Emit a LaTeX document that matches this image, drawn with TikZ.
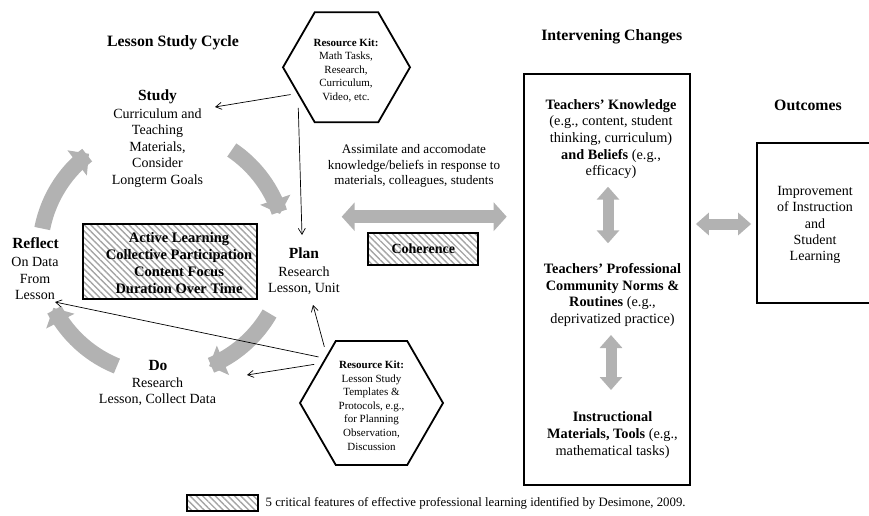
\documentclass[tikz,border=0pt]{standalone}
\usepackage{fontspec}
\setmainfont{Liberation Serif}
\usetikzlibrary{shapes.geometric,arrows.meta,patterns.meta,calc}
\definecolor{agray}{RGB}{178,178,178}
\definecolor{hgray}{RGB}{165,165,165}
\begin{document}
\begin{tikzpicture}[x=1pt,y=-1pt,
  body/.style={font=\fontsize{14}{16.4}\selectfont, align=center, inner sep=0pt},
  cyc/.style={font=\bfseries\fontsize{15.5}{18}\selectfont, inner sep=0pt},
  head/.style={font=\bfseries\fontsize{15.8}{18}\selectfont, inner sep=0pt},
  kittext/.style={font=\fontsize{11}{13.6}\selectfont, align=center, inner sep=0pt},
  ivtext/.style={font=\fontsize{14.3}{16.6}\selectfont, align=center, inner sep=0pt},
  hexa/.style={draw, line width=1.8pt, regular polygon, regular polygon sides=6, inner sep=0pt, outer sep=7pt},
  hatchbox/.style={draw, line width=1.8pt, pattern={Lines[angle=-45,distance=4.5pt,line width=1.4pt]}, pattern color=hgray, inner sep=0pt},
  frame/.style={draw, line width=1.8pt, inner sep=0pt},
  thinarr/.style={line width=0.7pt, -{Straight Barb[length=6pt,width=7pt]}},
  garc/.style={draw=agray, line width=16pt, -{Triangle[width=31pt,length=15pt]}},
  gdbl/.style={draw=agray, line width=12.5pt, {Triangle[width=28pt,length=13pt]}-{Triangle[width=28pt,length=13pt]}},
  gsmall/.style={draw=agray, line width=11pt, {Triangle[width=22pt,length=13pt]}-{Triangle[width=22pt,length=13pt]}}
]
\useasboundingbox (0,0) rectangle (869,516);

% headings
\node[head] (lsc) at (173,43) {Lesson Study Cycle};
\node[head] (ivh) at (611.7,36.7) {Intervening Changes};
\node[head] (outh) at (808,105) {Outcomes};

% cycle arrows
\draw[garc] plot[domain=191:233, samples=40] ({163+123*cos(\x)},{252+123*sin(\x)});
\draw[garc] plot[domain=304:342, samples=40] ({163+123*cos(\x)},{252+123*sin(\x)});
\draw[garc] plot[domain=30:68, samples=40] ({163+123*cos(\x)},{252+123*sin(\x)});
\draw[garc] plot[domain=112:153, samples=40] ({163+123*cos(\x)},{252+123*sin(\x)});

% cycle stages
\node[cyc] (studyH) at (157.5,97) {Study};
\node[body] (study) at (157.5,148) {Curriculum and\\Teaching\\Materials,\\Consider\\Longterm Goals};
\node[cyc] (planH) at (304,253) {Plan};
\node[body] (plan) at (304,280.5) {Research\\Lesson, Unit};
\node[cyc] (doH) at (158,365) {Do};
\node[body] (do) at (157.5,391.5) {Research\\Lesson, Collect Data};
\node[cyc] (refH) at (35.5,243.3) {Reflect};
\node[body] (reflect) at (35,278.5) {On Data\\From\\Lesson};

% active box
\node[hatchbox, minimum width=173.4pt, minimum height=75pt] (active) at (170,261.5) {};
\node[font=\bfseries\fontsize{14.5}{17}\selectfont, align=center, inner sep=0pt] (activet) at (179,263) {Active Learning\\Collective Participation\\Content Focus\\Duration Over Time};

% resource kits
\node[hexa, minimum size=127pt] (kit1) at (346.5,67.3) {};
\node[kittext] (kit1t) at (346,70.3) {\textbf{Resource Kit:}\\Math Tasks,\\Research,\\Curriculum,\\Video, etc.};
\node[hexa, minimum size=143pt] (kit2) at (371.5,403) {};
\node[kittext] (kit2t) at (371.5,405.5) {\textbf{Resource Kit:}\\Lesson Study\\Templates \&\\Protocols, e.g.,\\for Planning\\Observation,\\Discussion};

% thin arrows
\coordinate (tStudy) at (215,107);
\coordinate (tPlanA) at (302,235);
\coordinate (tPlanB) at (313,305);
\coordinate (tRefl) at (55,302);
\coordinate (tDo) at (247,375);
\draw[thinarr] (kit1.206) -- (tStudy);
\draw[thinarr] (kit1.220) -- (tPlanA);
\draw[thinarr] (kit2.130) -- (tPlanB);
\draw[thinarr] (kit2.139) -- (tRefl);
\draw[thinarr] (kit2.146) -- (tDo);

% assimilate
\node[font=\fontsize{13.1}{15.5}\selectfont, align=center, inner sep=0pt] (assim) at (414,166) {Assimilate and accomodate\\knowledge/beliefs in response to\\materials, colleagues, students};
\coordinate (bigL) at (341.7,216.7);
\coordinate (bigR) at (506.7,216.7);
\draw[gdbl] (bigL) -- (bigR);
\node[hatchbox, minimum width=110pt, minimum height=31.7pt, font=\bfseries\fontsize{14}{16}\selectfont] (coh) at (423.3,249.2) {Coherence};

% intervening box
\node[frame, minimum width=166pt, minimum height=411pt] (ivbox) at (607,279.5) {};
\node[ivtext] (iv1) at (611,139) {\textbf{Teachers' Knowledge}\\(e.g., content, student\\thinking, curriculum)\\\textbf{and Beliefs} (e.g.,\\efficacy)};
\node[ivtext] (iv2) at (612.5,295) {\textbf{Teachers' Professional}\\\textbf{Community Norms \&}\\\textbf{Routines} (e.g.,\\deprivatized practice)};
\node[ivtext] (iv3) at (612.5,435) {\textbf{Instructional}\\\textbf{Materials, Tools} (e.g.,\\mathematical tasks)};
\coordinate (v1a) at (608,186.7);
\coordinate (v1b) at (608,243.3);
\coordinate (v2a) at (611,335);
\coordinate (v2b) at (611,390);
\draw[gsmall] (v1a) -- (v1b);
\draw[gsmall] (v2a) -- (v2b);

% outcomes
\node[frame, minimum width=130pt, minimum height=160pt] (outbox) at (822,223) {};
\node[body] (outt) at (815,225) {Improvement\\of Instruction\\and\\Student\\Learning};
\draw[gsmall] ($(ivbox.east |- outt.center)+(5,-1)$) -- ($(outbox.west |- outt.center)+(-5,-1)$);

% legend
\node[hatchbox, line width=1.4pt, minimum width=71pt, minimum height=16pt] (leg) at (222.5,503) {};
\node[font=\fontsize{12.8}{14}\selectfont, anchor=west, inner sep=0pt] (legt) at (265.5,503.5) {5 critical features of effective professional learning identified by Desimone, 2009.};
\end{tikzpicture}
\end{document}
